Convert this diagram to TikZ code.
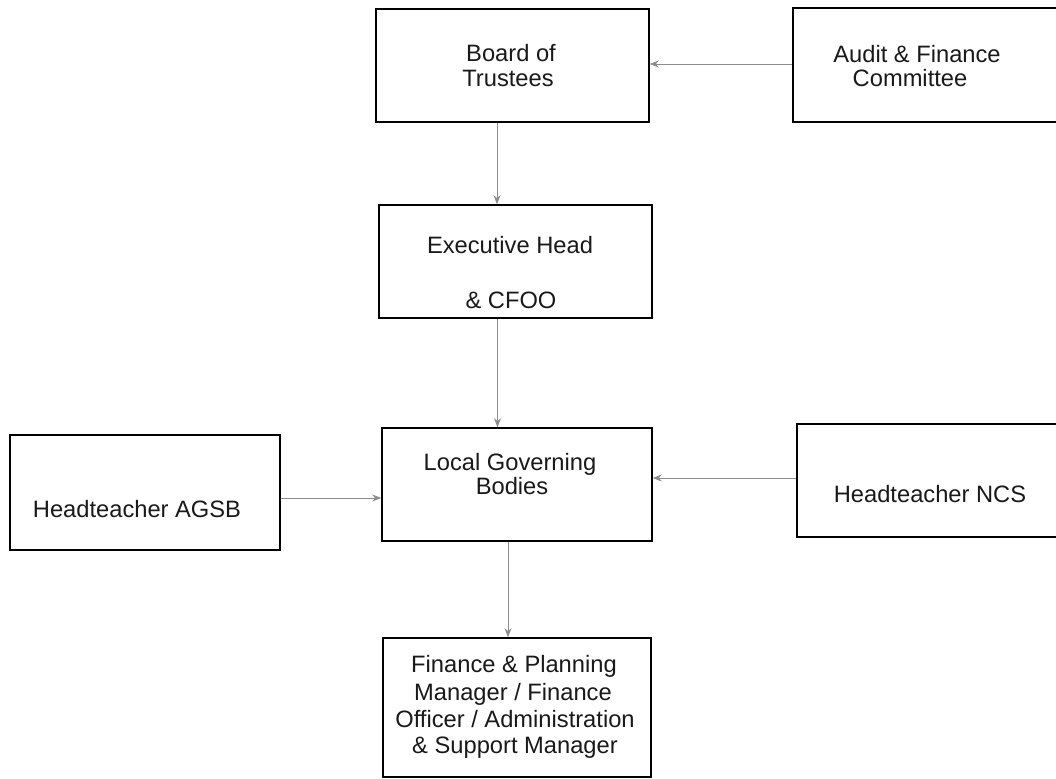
\documentclass[tikz,border=0pt]{standalone}
\usepackage{fontspec}
\setmainfont{Liberation Sans}
\usetikzlibrary{arrows.meta}
\begin{document}
\begin{tikzpicture}[x=1pt,y=-1pt,
  box/.style={draw=black, line width=1.6pt, rectangle, inner sep=0pt},
  txt/.style={font=\fontsize{23.7pt}{28pt}\selectfont, anchor=base, inner sep=0pt, text=black!90},
  arr/.style={draw=black!45, line width=0.8pt, -{Stealth[length=9pt,width=7pt]}}]
\useasboundingbox (0,0) rectangle (1056,778);
\clip (0,0) rectangle (1056,778);
% boxes
\node[box, minimum width=273pt, minimum height=113pt] (board) at (512.5,65.5) {};
\node[box, minimum width=270pt, minimum height=114pt] (audit) at (928,65) {};
\node[box, minimum width=273pt, minimum height=113pt] (exec) at (515.5,261.5) {};
\node[box, minimum width=270pt, minimum height=113pt] (lgb) at (517,484.5) {};
\node[box, minimum width=270pt, minimum height=115pt] (agsb) at (145,492.5) {};
\node[box, minimum width=266pt, minimum height=113pt] (ncs) at (930,480.5) {};
\node[box, minimum width=268pt, minimum height=139pt] (fin) at (517,707.5) {};
% texts
\node[txt] (board1) at (511,62) {Board of};
\node[txt] (board2) at (508,87) {Trustees};
\node[txt] (audit1) at (917,63) {Audit \& Finance};
\node[txt] (audit2) at (910,87) {Committee};
\node[txt] (exec1) at (510,253) {Executive Head};
\node[txt] (exec2) at (511,308) {\& CFOO};
\node[txt] (lgb1) at (510,470) {Local Governing};
\node[txt] (lgb2) at (512,494) {Bodies};
\node[txt] (agsb1) at (137,517) {Headteacher AGSB};
\node[txt] (ncs1) at (930,502) {Headteacher NCS};
\node[txt] (fin1) at (514,672) {Finance \& Planning};
\node[txt] (fin2) at (513,700) {Manager / Finance};
\node[txt] (fin3) at (515,727) {Officer / Administration};
\node[txt] (fin4) at (515,753) {\& Support Manager};
% connectors
\draw[arr] ([yshift=1pt]audit.west) -- ([yshift=1pt]audit.west -| board.east);
\draw[arr] ([xshift=-15.5pt]board.south) -- ([xshift=-15.5pt]board.south |- exec.north);
\draw[arr] ([xshift=-18pt]exec.south) -- ([xshift=-18pt]exec.south |- lgb.north);
\draw[arr] ([yshift=-5.5pt]agsb.east) -- ([yshift=-5.5pt]agsb.east -| lgb.west);
\draw[arr] ([yshift=2.5pt]ncs.west) -- ([yshift=2.5pt]ncs.west -| lgb.east);
\draw[arr] ([xshift=-9pt]lgb.south) -- ([xshift=-9pt]lgb.south |- fin.north);
\end{tikzpicture}
\end{document}
